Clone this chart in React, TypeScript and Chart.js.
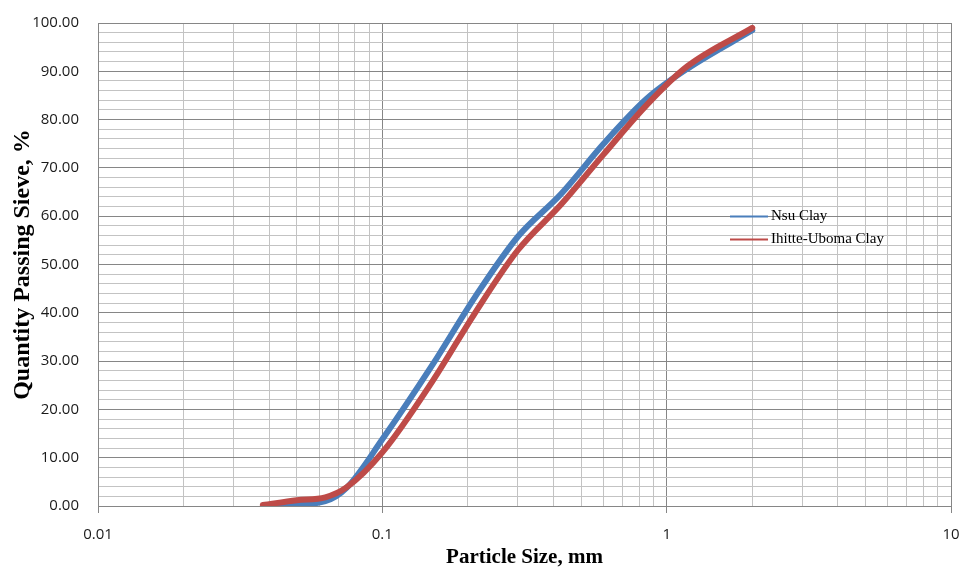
import React, { useEffect, useRef } from "react";
import { Chart, registerables } from "chart.js";

Chart.register(...registerables);

// Particle sizes (mm) and percent passing
const nsuSizes = [2, 1.18, 0.85, 0.6, 0.425, 0.3, 0.212, 0.15, 0.1, 0.075, 0.063, 0.0425];
const nsuPassing = [98.5, 90.5, 84.3, 75, 64.6, 55.8, 43.3, 29.2, 13.8, 3.8, 1.0, 0];

const ihitteSizes = [2, 1.18, 0.85, 0.6, 0.425, 0.3, 0.212, 0.15, 0.1, 0.075, 0.063, 0.05, 0.038];
const ihittePassing = [99, 91, 83, 72.8, 62.4, 53, 40, 25.8, 11.1, 3.9, 1.8, 1.2, 0.2];

const seriesNames = ["Nsu Clay", "Ihitte-Uboma Clay"];
const seriesColors = ["#4a7ebb", "#be4b48"];

const xTickLabels = ["0.01", "0.1", "1", "10"];
const yMin = 0;
const yMax = 100;

const MAJOR = "#868686";
const MINOR = "#c3c3c3";

const isDecade = (v: number) => {
  const l = Math.log10(v);
  return Math.abs(l - Math.round(l)) < 1e-9;
};

const legendPlugin = {
  id: "customLegend",
  afterDraw(chart: any) {
    const ctx = chart.ctx;
    ctx.save();
    const items = [
      { name: seriesNames[0], color: seriesColors[0], y: 216.5 },
      { name: seriesNames[1], color: seriesColors[1], y: 239.5 },
    ];
    ctx.font = "15px 'Liberation Serif', 'Times New Roman', serif";
    ctx.textBaseline = "middle";
    ctx.textAlign = "left";
    for (const it of items) {
      ctx.strokeStyle = it.color;
      ctx.lineWidth = 2;
      ctx.beginPath();
      ctx.moveTo(730, it.y);
      ctx.lineTo(768, it.y);
      ctx.stroke();
      ctx.fillStyle = "#000";
      ctx.fillText(it.name, 771, it.y);
    }
    ctx.restore();
  },
};

export default function App() {
  const ref = useRef<HTMLCanvasElement | null>(null);

  useEffect(() => {
    if (!ref.current) return;
    const chart = new Chart(ref.current, {
      type: "line",
      data: {
        datasets: [
          {
            label: seriesNames[0],
            data: nsuSizes.map((x, i) => ({ x, y: nsuPassing[i] })),
            borderColor: seriesColors[0],
            backgroundColor: seriesColors[0],
            borderWidth: 6,
            pointRadius: 0,
            cubicInterpolationMode: "monotone",
            borderCapStyle: "round",
            borderJoinStyle: "round",
            order: 1,
          },
          {
            label: seriesNames[1],
            data: ihitteSizes.map((x, i) => ({ x, y: ihittePassing[i] })),
            borderColor: seriesColors[1],
            backgroundColor: seriesColors[1],
            borderWidth: 6,
            pointRadius: 0,
            cubicInterpolationMode: "monotone",
            borderCapStyle: "round",
            borderJoinStyle: "round",
            order: 0,
          },
        ],
      },
      options: {
        responsive: false,
        animation: false,
        layout: { padding: { top: 23, right: 13, left: 0, bottom: 0 } },
        plugins: {
          legend: { display: false },
          tooltip: { enabled: false },
        },
        scales: {
          x: {
            type: "logarithmic",
            min: 0.01,
            max: 10,
            afterBuildTicks(scale: any) {
              const t: any[] = [];
              for (let e = -2; e <= 0; e++) {
                for (let m = 1; m <= 9; m++) {
                  t.push({ value: Number((m * Math.pow(10, e)).toPrecision(6)) });
                }
              }
              t.push({ value: 10 });
              scale.ticks = t;
            },
            afterFit(scale: any) {
              scale.height = 64;
              scale.paddingLeft = 0;
              scale.paddingRight = 0;
            },
            ticks: {
              autoSkip: false,
              maxRotation: 0,
              minRotation: 0,
              padding: 13,
              color: "#1a1a1a",
              font: { family: "'Open Sans', 'Liberation Sans', sans-serif", size: 15 },
              callback: (v: any) => {
                const n = Number(v);
                if (!isDecade(n)) return "";
                const idx = Math.round(Math.log10(n)) + 2;
                return xTickLabels[idx];
              },
            },
            grid: {
              color: (c: any) => (c.tick && isDecade(c.tick.value) ? MAJOR : MINOR),
              tickColor: (c: any) => (c.tick && isDecade(c.tick.value) ? MAJOR : "rgba(0,0,0,0)"),
              tickLength: 7,
              lineWidth: 1,
            },
            border: { color: MAJOR },
            title: {
              display: true,
              text: "Particle Size, mm",
              color: "#000",
              font: { family: "'Liberation Serif', 'Times New Roman', serif", size: 21, weight: "bold" },
              padding: { top: 0, bottom: 0 },
            },
          },
          y: {
            type: "linear",
            min: yMin,
            max: yMax,
            afterFit(scale: any) {
              scale.width = 98;
              scale.paddingTop = 0;
              scale.paddingBottom = 0;
            },
            ticks: {
              stepSize: 2,
              autoSkip: false,
              padding: 19,
              color: "#1a1a1a",
              font: { family: "'Open Sans', 'Liberation Sans', sans-serif", size: 15 },
              callback: (v: any) => {
                const n = Number(v);
                return Math.round(n) % 10 === 0 ? n.toFixed(2) : "";
              },
            },
            grid: {
              color: (c: any) => (c.tick && Math.round(c.tick.value) % 10 === 0 ? MAJOR : MINOR),
              drawTicks: false,
              lineWidth: 1,
            },
            border: { color: MAJOR },
            title: {
              display: true,
              text: "Quantity Passing Sieve, %",
              color: "#000",
              font: { family: "'Liberation Serif', 'Times New Roman', serif", size: 24, weight: "bold" },
              padding: { top: 8, bottom: 0 },
            },
          },
        },
      },
      plugins: [legendPlugin],
    } as any);
    return () => chart.destroy();
  }, []);

  return (
    <div style={{ position: "fixed", left: 0, top: 0, width: 964, height: 570, background: "#fff" }}>
      <canvas ref={ref} width={964} height={570} />
    </div>
  );
}
